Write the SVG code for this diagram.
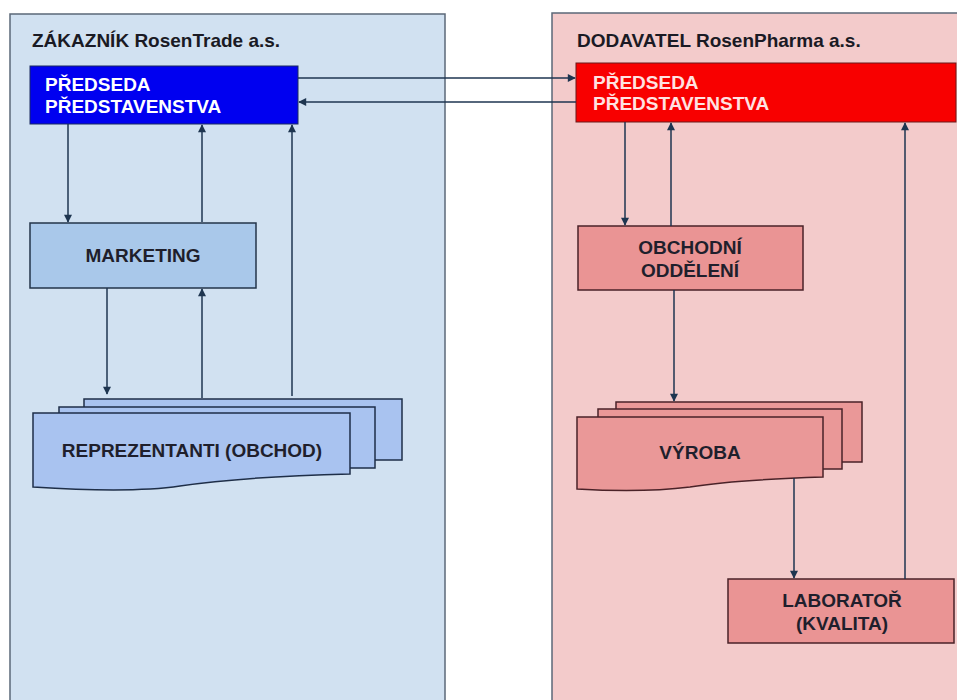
<svg xmlns="http://www.w3.org/2000/svg" width="957" height="700" viewBox="0 0 957 700">
<style>
text{font-family:"Liberation Sans",Arial,sans-serif;font-weight:bold}
.title{font-size:19px;fill:#1a1a24}
.lbl{font-size:19px;fill:#1f1f2c}
.wht{font-size:19px;fill:#fff}
.wpk{font-size:19px;fill:#ffe2e2}
.cont{stroke:#5b6878;stroke-width:1.5}
.bnode{fill:#a9c8ea;stroke:#23344a;stroke-width:1.5}
.bdoc{fill:#a9c3f0;stroke:#1e2e48;stroke-width:1.5}
.rnode{fill:#ea9494;stroke:#4a2228;stroke-width:1.5}
.rdoc{fill:#ea9898;stroke:#4a2228;stroke-width:1.5}
.conn{fill:none;stroke:#1e3550;stroke-width:1.5}
</style>
<defs>
<marker id="ah" viewBox="0 0 10 10" refX="9" refY="5" markerWidth="9" markerHeight="8" markerUnits="userSpaceOnUse" orient="auto">
<path d="M0,0 L10,5 L0,10 z" fill="#1e3550"/>
</marker>
</defs>
<rect width="957" height="700" fill="#ffffff"/>
<g id="customer">
<rect class="cont" x="10" y="14" width="435" height="700" fill="#d1e1f1"/>
<text class="title" x="32" y="47">ZÁKAZNÍK RosenTrade a.s.</text>
</g>
<g id="supplier">
<rect class="cont" x="552" y="13" width="420" height="700" fill="#f3cbcb"/>
<text class="title" x="577" y="47">DODAVATEL RosenPharma a.s.</text>
</g>
<g id="customer-chair">
<rect x="30" y="66" width="268" height="58" fill="#0000f0" stroke="#1a2a60" stroke-width="1"/>
<text class="wht" x="45" y="91">PŘEDSEDA</text>
<text class="wht" x="45" y="113">PŘEDSTAVENSTVA</text>
</g>
<g id="supplier-chair">
<rect x="576" y="63" width="380" height="59" fill="#f80000" stroke="#6a1a1a" stroke-width="1"/>
<text class="wpk" x="593" y="89">PŘEDSEDA</text>
<text class="wpk" x="593" y="110">PŘEDSTAVENSTVA</text>
</g>
<g id="marketing">
<rect class="bnode" x="30" y="223" width="226" height="65"/>
<text class="lbl" x="143" y="262" text-anchor="middle">MARKETING</text>
</g>
<g id="reprezentanti">
<rect class="bdoc" x="84" y="399" width="318" height="61"/>
<rect class="bdoc" x="59" y="407" width="316" height="61"/>
<path class="bdoc" d="M33,413 H350 V474 C270,476 220,480 180,486 C140,492 80,490 33,487 Z"/>
<text class="lbl" x="192" y="457" text-anchor="middle">REPREZENTANTI (OBCHOD)</text>
</g>
<g id="obchodni">
<rect class="rnode" x="578" y="226" width="225" height="64"/>
<text class="lbl" x="690" y="254" text-anchor="middle">OBCHODNÍ</text>
<text class="lbl" x="690" y="277" text-anchor="middle">ODDĚLENÍ</text>
</g>
<g id="vyroba">
<rect class="rdoc" x="616" y="402" width="246" height="60"/>
<rect class="rdoc" x="598" y="409" width="244" height="60"/>
<path class="rdoc" d="M577,417 H823 V477 C760,479 720,482 690,487 C650,492 610,491 577,489 Z"/>
<text class="lbl" x="700" y="459" text-anchor="middle">VÝROBA</text>
</g>
<g id="laborator">
<rect class="rnode" x="728" y="579" width="226" height="64"/>
<text class="lbl" x="842" y="607" text-anchor="middle">LABORATOŘ</text>
<text class="lbl" x="842" y="630" text-anchor="middle">(KVALITA)</text>
</g>
<g id="connectors">
<path class="conn" d="M298,78 H575" marker-end="url(#ah)"/>
<path class="conn" d="M576,102 H299" marker-end="url(#ah)"/>
<path class="conn" d="M68,124 V222" marker-end="url(#ah)"/>
<path class="conn" d="M202,222 V125" marker-end="url(#ah)"/>
<path class="conn" d="M292,396 V125" marker-end="url(#ah)"/>
<path class="conn" d="M107,288 V394" marker-end="url(#ah)"/>
<path class="conn" d="M202,398 V289" marker-end="url(#ah)"/>
<path class="conn" d="M625,122 V225" marker-end="url(#ah)"/>
<path class="conn" d="M671,226 V123" marker-end="url(#ah)"/>
<path class="conn" d="M674,290 V401" marker-end="url(#ah)"/>
<path class="conn" d="M794,478 V578" marker-end="url(#ah)"/>
<path class="conn" d="M905,579 V123" marker-end="url(#ah)"/>
</g>
</svg>
